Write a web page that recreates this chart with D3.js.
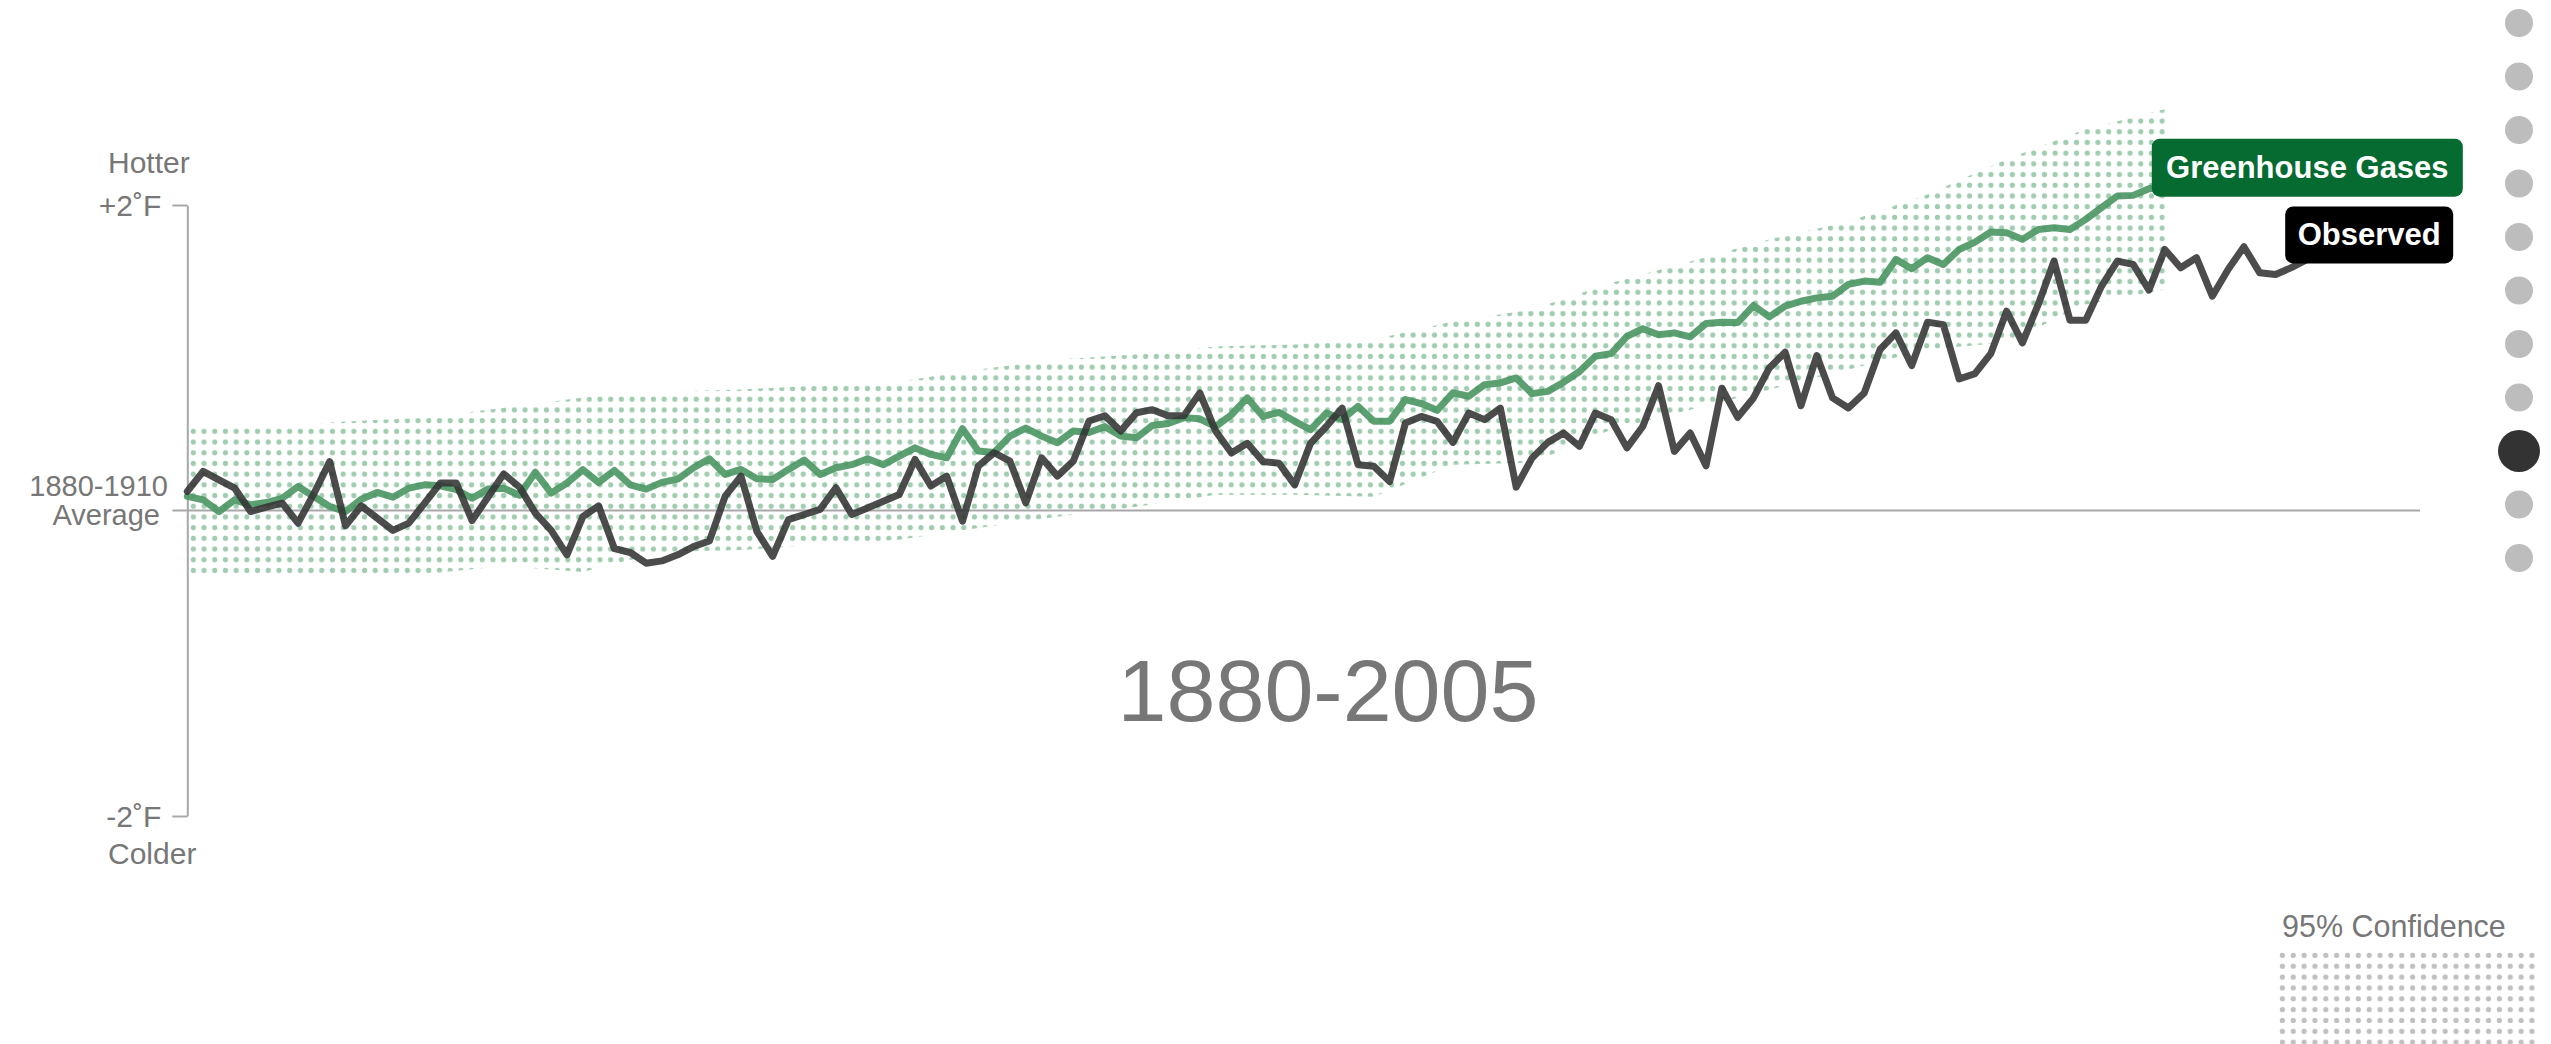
<!DOCTYPE html>
<html>
<head>
<meta charset="utf-8">
<script src="https://cdn.jsdelivr.net/npm/d3@7"></script>
<style>
  body { margin: 0; background: #fff; }
  svg { display: block; font-family: "Liberation Sans", Arial, Helvetica, sans-serif; }
  .lbl { fill: #777; font-size: 30px; }
  .axis path, .axis line { stroke: #a8a8a8; stroke-width: 2; }
  .axis text { fill: #777; font-size: 30px; font-family: "Liberation Sans", Arial, sans-serif; }
  .line { fill: none; stroke-width: 7; stroke-linejoin: round; stroke-linecap: round; }
</style>
</head>
<body>
<div id="chart"></div>
<script>
// temperature anomaly in deg F vs the 1880-1910 average, one value per year from 1880
var startYear = 1880;
var observed = [
  0.125, 0.256, 0.20, 0.146, -0.007, 0.022, 0.048, -0.083, 0.11, 0.32,
  -0.10, 0.03, -0.05, -0.13, -0.083, 0.048, 0.18, 0.18, -0.066, 0.087,
  0.24, 0.153, -0.017, -0.13, -0.29, -0.04, 0.03, -0.25, -0.275, -0.345,
  -0.33, -0.29, -0.236, -0.20, 0.094, 0.225, -0.136, -0.30, -0.06, -0.026,
  0.007, 0.149, -0.026, 0.017, 0.061, 0.105, 0.334, 0.16, 0.225, -0.07,
  0.29, 0.378, 0.323, 0.05, 0.345, 0.225, 0.323, 0.586, 0.62, 0.52,
  0.64, 0.66, 0.62, 0.62, 0.77, 0.52, 0.376, 0.44, 0.32, 0.31,
  0.168, 0.44, 0.55, 0.67, 0.30, 0.29, 0.19, 0.573, 0.616, 0.584,
  0.446, 0.638, 0.595, 0.67, 0.153, 0.343, 0.446, 0.507, 0.42, 0.638,
  0.595, 0.41, 0.55, 0.817, 0.387, 0.507, 0.293, 0.80, 0.61, 0.737,
  0.933, 1.036, 0.686, 1.014, 0.737, 0.671, 0.769, 1.054, 1.163, 0.949,
  1.233, 1.217, 0.861, 0.896, 1.027, 1.305, 1.097, 1.349, 1.633, 1.246,
  1.246, 1.469, 1.633, 1.611, 1.443, 1.709, 1.589, 1.655, 1.403, 1.578,
  1.727, 1.556, 1.545, 1.59, 1.644
];
var greenhouse = [
  0.092, 0.07, -0.007, 0.07, 0.037, 0.052, 0.08, 0.157, 0.092, 0.026,
  -0.007, 0.074, 0.118, 0.087, 0.146, 0.168, 0.162, 0.136, 0.08, 0.14,
  0.146, 0.10, 0.25, 0.114, 0.18, 0.267, 0.184, 0.262, 0.168, 0.14,
  0.184, 0.205, 0.28, 0.339, 0.236, 0.269, 0.208, 0.203, 0.269, 0.33,
  0.236, 0.28, 0.30, 0.339, 0.30, 0.356, 0.41, 0.367, 0.345, 0.535,
  0.389, 0.38, 0.487, 0.54, 0.487, 0.444, 0.52, 0.51, 0.549, 0.487,
  0.476, 0.557, 0.57, 0.608, 0.60, 0.549, 0.627, 0.737, 0.616, 0.643,
  0.584, 0.529, 0.638, 0.595, 0.682, 0.584, 0.584, 0.726, 0.70, 0.656,
  0.77, 0.748, 0.824, 0.835, 0.868, 0.765, 0.78, 0.84, 0.91, 1.01,
  1.027, 1.14, 1.19, 1.15, 1.163, 1.137, 1.224, 1.233, 1.23, 1.342,
  1.268, 1.338, 1.37, 1.392, 1.403, 1.48, 1.502, 1.495, 1.644, 1.583,
  1.655, 1.611, 1.709, 1.757, 1.823, 1.819, 1.775, 1.84, 1.851, 1.84,
  1.906, 1.983, 2.059, 2.063, 2.107, 2.12
];
// 95% confidence band of the greenhouse gas runs
var bandYears = [1880, 1885, 1890, 1895, 1900, 1905, 1910, 1915, 1920, 1925, 1930, 1935, 1940,
                 1945, 1950, 1955, 1960, 1965, 1970, 1975, 1980, 1985, 1990, 1995, 2000, 2005];
var bandUpper = [0.556, 0.543, 0.582, 0.608, 0.673, 0.739, 0.778, 0.792, 0.818, 0.844, 0.923, 0.988, 1.021,
                 1.073, 1.087, 1.119, 1.237, 1.316, 1.49, 1.63, 1.774, 1.892, 2.069, 2.30, 2.496, 2.627];
var bandLower = [-0.441, -0.441, -0.441, -0.415, -0.363, -0.402, -0.271, -0.258, -0.225, -0.192, -0.114, -0.041, 0.024,
                 0.103, 0.103, 0.09, 0.30, 0.313, 0.528, 0.66, 0.79, 0.923, 1.054, 1.10, 1.349, 1.447];

var yTicks = [-2, 2];
var yTickLabels = {"-2": "-2˚F", "2": "+2˚F"};
var navDots = [0, 1, 2, 3, 4, 5, 6, 7, 8, 9, 10];
var navActive = 8;

var width = 2551, height = 1044;

var x = d3.scaleLinear().domain([1880, 2014]).range([187.3, 2307.2]),
    y = d3.scaleLinear().domain([-2, 2]).range([816, 205]);

var svg = d3.select("#chart").append("svg")
    .attr("width", width)
    .attr("height", height);

var defs = svg.append("defs");
var dotGap = 10.7;
defs.append("pattern")
    .attr("id", "dotsGreen")
    .attr("patternUnits", "userSpaceOnUse")
    .attr("x", 188).attr("y", 426)
    .attr("width", dotGap).attr("height", dotGap)
  .append("circle")
    .attr("cx", dotGap / 2).attr("cy", dotGap / 2).attr("r", 2.6)
    .attr("fill", "#a0ccb0");
defs.append("pattern")
    .attr("id", "dotsGray")
    .attr("patternUnits", "userSpaceOnUse")
    .attr("x", 2277).attr("y", 950)
    .attr("width", 10.85).attr("height", 10.85)
  .append("circle")
    .attr("cx", 5.4).attr("cy", 5.4).attr("r", 2.6)
    .attr("fill", "#c0c0c0");

// confidence band
var band = d3.area()
    .x(function(d, i) { return x(d); })
    .y0(function(d, i) { return y(bandLower[i]); })
    .y1(function(d, i) { return y(bandUpper[i]); });

svg.append("path")
    .attr("d", band(bandYears))
    .attr("fill", "url(#dotsGreen)");

// y axis
var yAxis = d3.axisLeft(y)
    .tickValues(yTicks)
    .tickSize(15)
    .tickSizeOuter(0)
    .tickPadding(11)
    .tickFormat(function(d) { return yTickLabels[d]; });

svg.append("g")
    .attr("class", "axis")
    .attr("transform", "translate(" + x(1880) + ",0)")
    .call(yAxis)
    .call(function(g) { g.selectAll(".tick text").attr("dy", "0.36em"); });

// average line
svg.append("line")
    .attr("x1", x(1880) - 15).attr("x2", 2420)
    .attr("y1", y(0)).attr("y2", y(0))
    .attr("stroke", "#a8a8a8").attr("stroke-width", 2);

svg.append("text").attr("class", "lbl").attr("x", 108).attr("y", 173).text("Hotter");
svg.append("text").attr("class", "lbl").attr("x", 108).attr("y", 864).text("Colder");
svg.append("text").attr("class", "lbl").attr("text-anchor", "end").attr("x", 168).attr("y", y(0) - 15)
    .style("font-size", "29px").text("1880-1910");
svg.append("text").attr("class", "lbl").attr("text-anchor", "end").attr("x", 160).attr("y", y(0) + 14)
    .style("font-size", "29px").text("Average");

// lines
var line = d3.line()
    .x(function(d, i) { return x(startYear + i); })
    .y(function(d) { return y(d); });

svg.append("path")
    .attr("class", "line")
    .attr("d", line(greenhouse))
    .attr("stroke", "#4a9663")
    .attr("stroke-opacity", 0.9);

svg.append("path")
    .attr("class", "line")
    .attr("d", line(observed))
    .attr("stroke", "#333")
    .attr("stroke-opacity", 0.88);

// end labels
var ghX = x(startYear + greenhouse.length - 1), ghY = y(greenhouse[greenhouse.length - 1]);
svg.append("rect")
    .attr("x", ghX - 13).attr("y", ghY - 48)
    .attr("width", 311).attr("height", 58).attr("rx", 8)
    .attr("fill", "#066b30");
svg.append("text")
    .attr("x", ghX - 13 + 155.5).attr("y", ghY - 9)
    .attr("text-anchor", "middle")
    .attr("fill", "#fff").attr("font-weight", "bold").attr("font-size", 31)
    .text("Greenhouse Gases");

var obX = x(startYear + observed.length - 1), obY = y(observed[observed.length - 1]);
svg.append("rect")
    .attr("x", obX - 22).attr("y", obY - 53)
    .attr("width", 168).attr("height", 57).attr("rx", 8)
    .attr("fill", "#000");
svg.append("text")
    .attr("x", obX - 22 + 84).attr("y", obY - 14)
    .attr("text-anchor", "middle")
    .attr("fill", "#fff").attr("font-weight", "bold").attr("font-size", 31)
    .text("Observed");

// period title
svg.append("text")
    .attr("x", 1328).attr("y", 721)
    .attr("text-anchor", "middle")
    .attr("fill", "#777").attr("font-size", 88)
    .text("1880-2005");

// navigation dots
svg.selectAll(".nav")
    .data(navDots)
  .enter().append("circle")
    .attr("class", "nav")
    .attr("cx", 2519)
    .attr("cy", function(d) { return 23 + d * 53.5; })
    .attr("r", function(d) { return d === navActive ? 21 : 14; })
    .attr("fill", function(d) { return d === navActive ? "#333" : "#bdbdbd"; });

// legend
svg.append("text")
    .attr("x", 2282).attr("y", 937)
    .attr("fill", "#777").attr("font-size", 30.5)
    .text("95% Confidence");
svg.append("rect")
    .attr("x", 2277).attr("y", 950)
    .attr("width", 260).attr("height", 94)
    .attr("fill", "url(#dotsGray)");
</script>
</body>
</html>
